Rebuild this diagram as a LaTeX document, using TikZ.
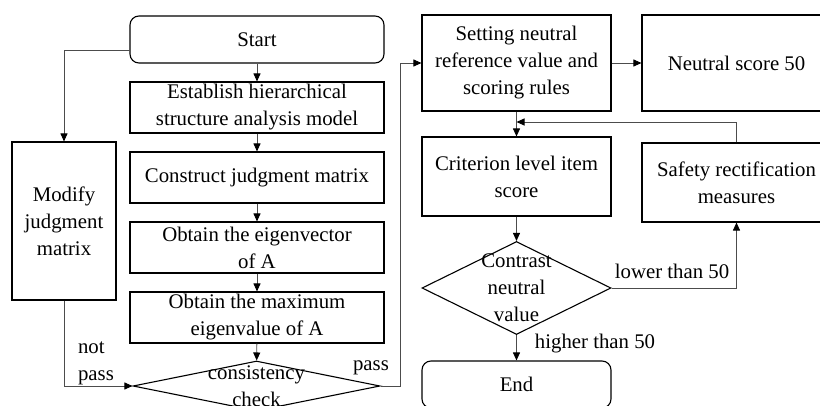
\documentclass[tikz,border=0pt]{standalone}
\usepackage{fontspec}
\setmainfont{Liberation Serif}
\usetikzlibrary{shapes.geometric}
\usetikzlibrary{arrows.meta}
\usetikzlibrary{positioning}

\begin{document}
\begin{tikzpicture}
    [
    x=1pt, y=-1pt,
    every node/.append style={font=\fontsize{20.8}{27}\selectfont},
    box/.style={draw, line width=1.1pt, align=center, inner sep=0pt},
    term/.style={box, rounded corners=9pt},
    decision/.style={draw, diamond, line width=1.1pt, inner sep=0pt},
    conn/.style={line width=0.9pt, draw=black!70, -{Triangle[length=8pt,width=7pt,color=black]}},
    lbl/.style={inner sep=0pt, align=left},
    ]
    \clip (0,0) rectangle (820,406);

    % left column
    \node (start) at (257,39.5) [term, minimum width=254pt, minimum height=47pt] {Start};
    \node (estab) at (257,107.5) [box, minimum width=254pt, minimum height=51pt] {Establish hierarchical\\structure analysis model};
    \node (judge) at (257,177.5) [box, minimum width=254pt, minimum height=51pt] {Construct judgment matrix};
    \node (eigvec) at (257,247.5) [box, minimum width=254pt, minimum height=51pt] {Obtain the eigenvector\\of A};
    \node (maxeig) at (257,317.5) [box, minimum width=254pt, minimum height=51pt] {Obtain the maximum\\eigenvalue of A};
    \node (check) at (256.5,386) [decision, minimum width=247pt, minimum height=50pt,
      label={[align=center, inner sep=0pt]center:consistency\\check}] {};
    \node (modify) at (64,221) [box, minimum width=104pt, minimum height=158pt] {Modify\\judgment\\matrix};
    \coordinate (s1) at (130,50);

    \draw [conn] (start) to (estab);
    \draw [conn] (estab) to (judge);
    \draw [conn] (judge) to (eigvec);
    \draw [conn] (eigvec) to (maxeig);
    \draw [conn] (maxeig) to (check);
    \draw [conn] (s1) -| (modify.north);
    \draw [conn] (modify.south) |- (check.west);
    \node (notpass) at (96,363) [lbl] {not\\pass};

    % right column
    \node (setting) at (516.5,63) [box, minimum width=189pt, minimum height=96pt] {Setting neutral\\reference value and\\scoring rules};
    \node (neutral) at (736.5,63) [box, minimum width=189pt, minimum height=96pt] {Neutral score 50};
    \node (crit) at (516.5,176.5) [box, minimum width=189pt, minimum height=79pt] {Criterion level item\\score};
    \node (safety) at (736.5,182.5) [box, minimum width=189pt, minimum height=79pt] {Safety rectification\\measures};
    \node (contrast) at (516.5,288) [decision, minimum width=189pt, minimum height=93pt,
      label={[align=center, inner sep=0pt]center:Contrast\\neutral\\value}] {};
    \node (end) at (516.5,384.5) [term, minimum width=189pt, minimum height=47pt] {End};
    \coordinate (fb) at (516.5,122);

    \draw [conn] (check.east) -- ++(19.5,0) |- (setting.west);
    \node (pass) at (371,368) [lbl] {pass};
    \draw [conn] (setting) to (neutral);
    \draw [conn] (setting) to (crit);
    \draw [conn] (safety.north) |- (fb);
    \draw [conn] (crit) to (contrast);
    \draw [conn] (contrast.east) -| (safety.south);
    \node (lower) at (672,271) [lbl] {lower than 50};
    \draw [conn] (contrast) to (end);
    \node (higher) at (595,344) [lbl] {higher than 50};
\end{tikzpicture}
\end{document}
